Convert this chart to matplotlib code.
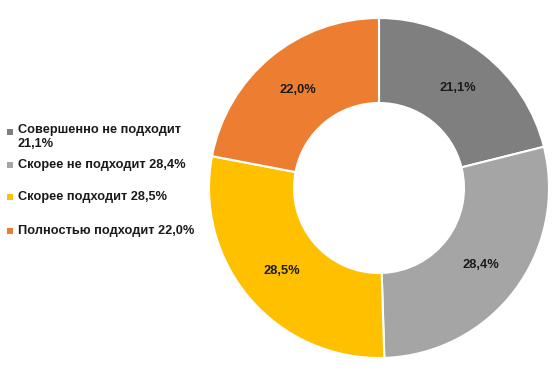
import matplotlib
matplotlib.use("Agg")
import matplotlib.pyplot as plt
from matplotlib.patches import Rectangle
import numpy as np

categories = ["Совершенно не подходит", "Скорее не подходит", "Скорее подходит", "Полностью подходит"]
values = [21.1, 28.4, 28.5, 22.0]
legend_labels = ["Совершенно не подходит\n21,1%", "Скорее не подходит 28,4%",
                 "Скорее подходит 28,5%", "Полностью подходит 22,0%"]
colors = ["#7F7F7F", "#A5A5A5", "#FFC000", "#ED7D31"]

plt.rcParams['font.family'] = ['Liberation Sans', 'DejaVu Sans']

W, H = 559, 377
fig = plt.figure(figsize=(W / 100, H / 100), dpi=100)

cx, cy, R = 379, 188, 170
ax = fig.add_axes([(cx - R) / W, (H - cy - R) / H, 2 * R / W, 2 * R / H])
wedges, texts = ax.pie(values, colors=colors, startangle=90, counterclock=False,
                       radius=1.0, wedgeprops=dict(width=0.5, edgecolor="white", linewidth=1.5))
for w, v in zip(wedges, values):
    ang = np.deg2rad((w.theta1 + w.theta2) / 2)
    r = 0.75
    ax.text(r * np.cos(ang), r * np.sin(ang), f"{v:.1f}%".replace(".", ","),
            ha="center", va="center", fontsize=9.3, fontweight="bold", color="#1a1a1a")
ax.set_xlim(-1, 1)
ax.set_ylim(-1, 1)
ax.set_aspect("equal")
ax.axis("off")

# legend
ys = [132, 165, 197, 231]
for lab, col, y in zip(legend_labels, colors, ys):
    fig.patches.append(Rectangle((7 / W, (H - y - 3) / H), 6 / W, 6 / H,
                                 transform=fig.transFigure, facecolor=col, edgecolor="none"))
    if "\n" in lab:
        fig.text(18 / W, (H - y + 8) / H, lab, ha="left", va="top",
                 fontsize=9.2, fontweight="bold", color="#1a1a1a", linespacing=1.2)
    else:
        fig.text(18 / W, (H - y) / H, lab, ha="left", va="center",
                 fontsize=9.2, fontweight="bold", color="#1a1a1a")

fig.savefig("out.png", dpi=100)
